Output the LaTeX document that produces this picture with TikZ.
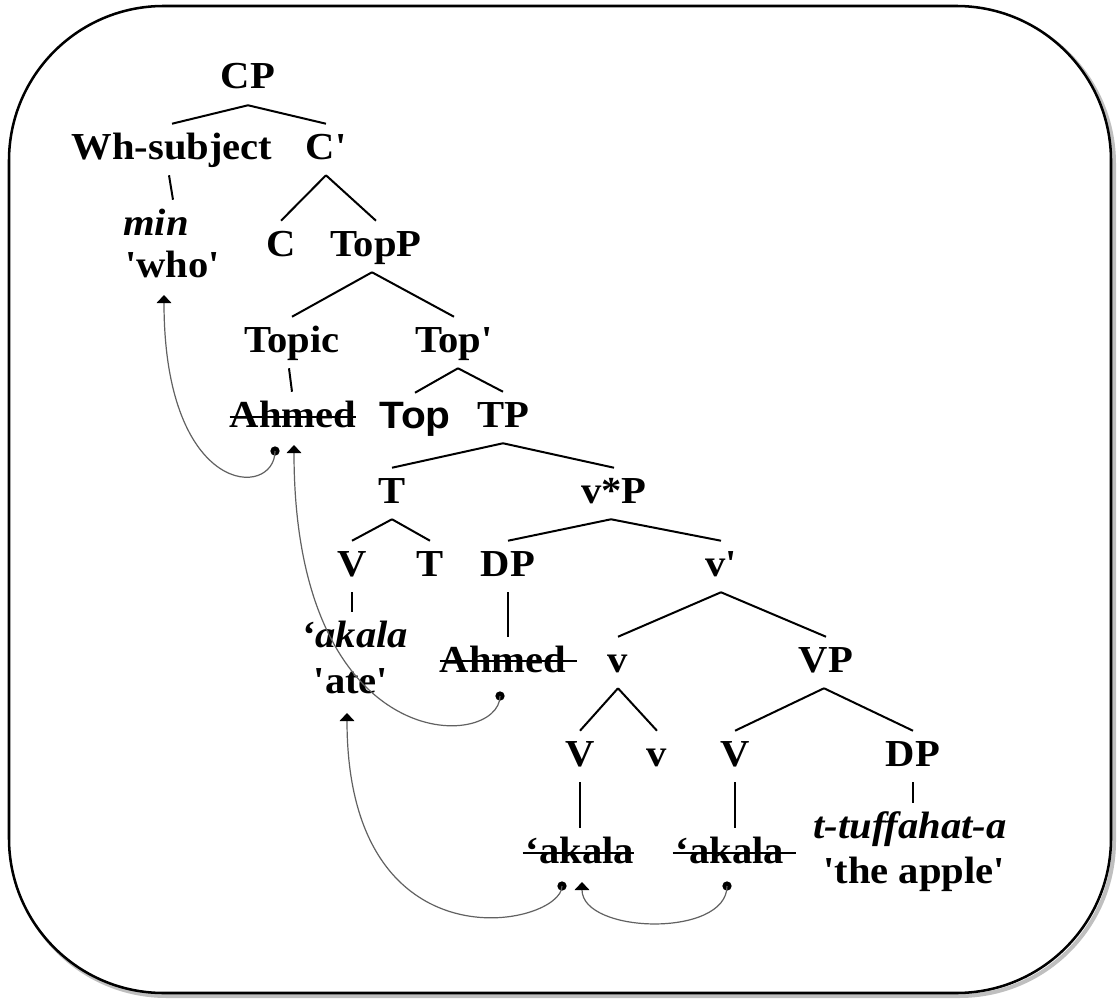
\documentclass[tikz,border=0pt]{standalone}
\usepackage{fontspec}
\newfontfamily\tnr{Liberation Serif}[FakeStretch=1.065]
\newfontfamily\arl{Liberation Sans}[FakeStretch=1.065]
\usetikzlibrary{arrows.meta,calc}
\begin{document}
\begin{tikzpicture}[x=0.75pt,y=-0.75pt,
  lab/.style={inner xsep=0pt, inner ysep=7.5pt, text height=18.75pt, text depth=4.5pt, anchor=base,
    font=\tnr\bfseries\fontsize{28.6}{34}\selectfont},
  ital/.style={lab, font=\tnr\bfseries\itshape\fontsize{28.6}{34}\selectfont},
  sans/.style={lab, font=\arl\bfseries\fontsize{28.6}{34}\selectfont},
  branch/.style={line width=1.5pt},
  strike/.style={line width=1.6pt},
  mv/.style={draw=black!62, line width=0.9pt, -{Triangle[width=11pt,length=6pt,color=black]}},
  dot/.style={circle, fill=black, inner sep=0pt, minimum size=7pt}]
\useasboundingbox (0,0) rectangle (1118,999);
% frame with faint shadow
\draw[black!25, line width=3pt, rounded corners=116pt] (12,9) rectangle (1114,996);
\draw[line width=1.9pt, rounded corners=116pt, fill=white] (9,6) rectangle (1111,993);

% nodes
\node[lab] (CP) at (248,89) {CP};
\node[lab] (Wh) at (172,159) {Wh-subject};
\node[lab] (Cb) at (326,159) {C'};
\node[ital, anchor=base west] (minA) at (123,235) {min};
\node[lab, anchor=base west] (minB) at (125,277) {'who'};
\node[lab] (C) at (281,256) {C};
\node[lab] (TopP) at (376,256) {TopP};
\node[lab] (Topic) at (292,352) {Topic};
\node[lab] (Topb) at (454,352) {Top'};
\node[lab] (Ahm1) at (293,427) {Ahmed};
\node[sans] (Top) at (415,428) {Top};
\node[lab] (TP) at (503,427) {TP};
\node[lab] (T1) at (392,503) {T};
\node[lab] (vsP) at (614,503) {v*P};
\node[lab] (V1) at (352,576) {V};
\node[lab] (T2) at (430,576) {T};
\node[lab] (DP1) at (508,576) {DP};
\node[lab] (vb) at (721,576) {v'};
\node[ital] (akA) at (355,647) {‘akala};
\node[lab] (ate) at (351,693) {'ate'};
\node[lab] (Ahm2) at (503,672) {Ahmed};
\node[lab] (v1) at (618,672) {v};
\node[lab] (VP) at (826,672) {VP};
\node[lab] (V2) at (580,766) {V};
\node[lab] (v2) at (657,766) {v};
\node[lab] (V3) at (735,766) {V};
\node[lab] (DP2) at (913,766) {DP};
\node[lab] (ak1) at (580,863) {‘akala};
\node[lab] (ak2) at (730,863) {‘akala};
\node[ital] (tuf) at (910,838) {t-tuffahat-a};
\node[lab] (apple) at (914,883) {'the apple'};

% branches
\draw[branch] (CP.south) -- (Wh.north);
\draw[branch] (CP.south) -- (Cb.north);
\draw[branch] ([xshift=-2.25pt]Wh.south) -- ([xshift=0.75pt]Wh.south |- minA.north);
\draw[branch] (Cb.south) -- (C.north);
\draw[branch] (Cb.south) -- (TopP.north);
\draw[branch] ([xshift=-3pt]TopP.south) -- (Topic.north);
\draw[branch] ([xshift=-3pt]TopP.south) -- (Topb.north);
\draw[branch] ([xshift=-2.25pt]Topic.south) -- (Topic.south |- Ahm1.north);
\draw[branch] ([xshift=3pt]Topb.south) -- (Top.north);
\draw[branch] ([xshift=3pt]Topb.south) -- (TP.north);
\draw[branch] (TP.south) -- (T1.north);
\draw[branch] (TP.south) -- (vsP.north);
\draw[branch] (T1.south) -- (V1.north);
\draw[branch] (T1.south) -- (T2.north);
\draw[branch] ([xshift=-2.25pt]vsP.south) -- (DP1.north);
\draw[branch] ([xshift=-2.25pt]vsP.south) -- (vb.north);
\draw[branch] (V1.south) -- (V1.south |- akA.north);
\draw[branch] (DP1.south) -- (DP1.south |- Ahm2.north);
\draw[branch] (vb.south) -- (v1.north);
\draw[branch] (vb.south) -- (VP.north);
\draw[branch] (v1.south) -- (V2.north);
\draw[branch] (v1.south) -- (v2.north);
\draw[branch] ([xshift=-1.5pt]VP.south) -- (V3.north);
\draw[branch] ([xshift=-1.5pt]VP.south) -- (DP2.north);
\draw[branch] (V2.south) -- (V2.south |- ak1.north);
\draw[branch] (V3.south) -- (V3.south |- ak2.north);
\draw[branch] (DP2.south) -- (DP2.south |- tuf.north);

% strikethroughs
\draw[strike] ($(Ahm1.base west)+(0,-10)$) -- ($(Ahm1.base east)+(0,-10)$);
\draw[strike] ($(Ahm2.base west)+(0,-11)$) -- ($(Ahm2.base east)+(11,-11)$);
\draw[strike] ($(ak1.base west)+(-3,-10)$) -- ($(ak1.base east)+(0,-10)$);
\draw[strike] ($(ak2.base west)+(-3,-10)$) -- ($(ak2.base east)+(12,-10)$);

% movement arrows
\node[dot] (d1) at (275,451) {};
\node[dot] (d2) at (500,696) {};
\node[dot] (d3) at (562,886) {};
\node[dot] (d4) at (727,886) {};
\coordinate (t1) at (164,295);
\coordinate (t2) at (294,445);
\coordinate (t3) at (347,713);
\coordinate (t4) at (582,882);
\draw[mv] (d1.center) .. controls +(0,48) and +(0,203) .. (t1);
\draw[mv] (d2.center) .. controls +(0,54) and +(0,317) .. (t2);
\draw[mv] (d3.center) .. controls +(0,40) and +(0,260) .. (t3);
\draw[mv] (d4.center) .. controls +(0,52) and +(0,52) .. (t4);
\end{tikzpicture}
\end{document}
